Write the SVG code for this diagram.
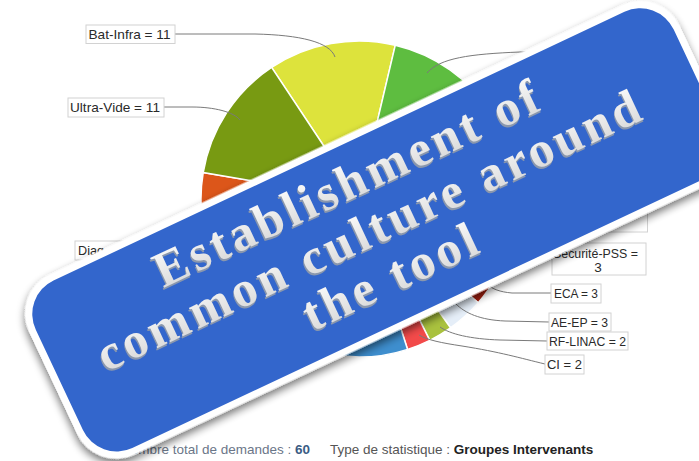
<svg xmlns="http://www.w3.org/2000/svg" width="699" height="461" viewBox="0 0 699 461">
<defs>
<style>
.slice{stroke:#fff;stroke-width:1.5}
.box rect{fill:#fff;stroke:#d2d2d2;stroke-width:1}
.box text{font-family:"Liberation Sans",Arial,sans-serif;font-size:13.5px;fill:#2a2a2a}
.conn path{fill:none;stroke:#7a7a7a;stroke-width:1}
.foot{font-family:"Liberation Sans",Arial,sans-serif;font-size:13.5px}
.bt{font-family:"Liberation Serif","Times New Roman",serif;font-weight:bold;font-size:50px;letter-spacing:4px;text-anchor:middle}
</style>
<filter id="sh" x="-10%" y="-20%" width="120%" height="140%">
<feGaussianBlur in="SourceAlpha" stdDeviation="4"/>
<feOffset dx="-2" dy="4" result="b"/>
<feComponentTransfer><feFuncA type="linear" slope="0.55"/></feComponentTransfer>
<feMerge><feMergeNode/><feMergeNode in="SourceGraphic"/></feMerge>
</filter>
<linearGradient id="tg" x1="0" y1="0" x2="0" y2="1">
<stop offset="0" stop-color="#ffffff"/>
<stop offset="1" stop-color="#d4d4d4"/>
</linearGradient>
</defs>
<rect width="699" height="461" fill="#fff"/>

<g id="pie">
<path class="slice" fill="#dde33c" d="M359,199 L271.6,67.4 A158,158 0 0 1 395.3,45.2 Z"/>
<path class="slice" fill="#5ebd40" d="M359,199 L395.3,45.2 A158,158 0 0 1 491.5,113 Z"/>
<path class="slice" fill="#3aa08c" d="M359,199 L491.5,113 A158,158 0 0 1 516.4,185.2 Z"/>
<path class="slice" fill="#8c55a8" d="M359,199 L516.4,185.2 A158,158 0 0 1 511.2,241.5 Z"/>
<path class="slice" fill="#f0a030" d="M359,199 L511.2,241.5 A158,158 0 0 1 497.7,274.6 Z"/>
<path class="slice" fill="#a62010" d="M359,199 L497.7,274.6 A158,158 0 0 1 478.2,302.7 Z"/>
<path class="slice" fill="#e5eef8" d="M359,199 L478.2,302.7 A158,158 0 0 1 450.5,327.8 Z"/>
<path class="slice" fill="#a9c13e" d="M359,199 L450.5,327.8 A158,158 0 0 1 429.8,340.3 Z"/>
<path class="slice" fill="#f24a4a" d="M359,199 L429.8,340.3 A158,158 0 0 1 407.6,349.4 Z"/>
<path class="slice" fill="#3e8ece" d="M359,199 L407.6,349.4 A158,158 0 0 1 253.3,316.4 Z"/>
<path class="slice" fill="#2a6aa8" d="M359,199 L253.3,316.4 A158,158 0 0 1 205,234.5 Z"/>
<path class="slice" fill="#dc561a" d="M359,199 L205,234.5 A158,158 0 0 1 203.2,172.6 Z"/>
<path class="slice" fill="#789a12" d="M359,199 L203.2,172.6 A158,158 0 0 1 271.6,67.4 Z"/>
</g>

<g id="connectors" class="conn">
<path d="M175,34 L255,34 C300,35 330,42 335,57"/>
<path d="M164,107 L192,107 C214,107 234,112 240,120"/>
<path d="M427,73 C440,58 470,54 520,52 L570,52"/>
<path d="M551,293 L512,293 C500,292 492,289 487,284"/>
<path d="M549,322 L505,321 C480,320 465,313 456,304"/>
<path d="M547,341 L500,340 C470,339 450,334 440,327"/>
<path d="M545,364 C520,358 500,352 462,346 C442,343 427,340 419,335"/>
</g>

<g id="lbl-batinfra" class="box"><rect x="86" y="25" width="89" height="18.5"/><text x="88.5" y="39" textLength="82" lengthAdjust="spacingAndGlyphs">Bat-Infra = 11</text></g>
<g id="lbl-ultravide" class="box"><rect x="68" y="98" width="96" height="19"/><text x="70" y="112" textLength="90" lengthAdjust="spacingAndGlyphs">Ultra-Vide = 11</text></g>
<g id="lbl-diag" class="box"><rect x="75" y="241" width="80" height="19"/><text x="78" y="255" textLength="26" lengthAdjust="spacingAndGlyphs">Diag</text></g>
<g id="lbl-hidden" class="box"><rect x="560" y="205" width="87.5" height="27"/></g>
<g id="lbl-securite" class="box"><rect x="552" y="243" width="94" height="32"/><text x="553" y="258" textLength="85" lengthAdjust="spacingAndGlyphs">Sécurité-PSS =</text><text x="598" y="272" text-anchor="middle">3</text></g>
<g id="lbl-eca" class="box"><rect x="551" y="284" width="50" height="19"/><text x="554" y="298" textLength="44" lengthAdjust="spacingAndGlyphs">ECA = 3</text></g>
<g id="lbl-aeep" class="box"><rect x="549" y="313" width="62" height="18"/><text x="551" y="327" textLength="57" lengthAdjust="spacingAndGlyphs">AE-EP = 3</text></g>
<g id="lbl-rflinac" class="box"><rect x="547" y="332" width="81" height="18"/><text x="549" y="346" textLength="77" lengthAdjust="spacingAndGlyphs">RF-LINAC = 2</text></g>
<g id="lbl-ci" class="box"><rect x="545" y="355" width="39" height="19"/><text x="547" y="369" textLength="35" lengthAdjust="spacingAndGlyphs">CI = 2</text></g>

<g id="footer">
<text class="foot" x="121" y="454" fill="#6b7688">Nombre total de demandes : <tspan font-weight="bold" fill="#3a5c84">60</tspan></text>
<text class="foot" x="330" y="454" fill="#555">Type de statistique : <tspan font-weight="bold" fill="#222">Groupes Intervenants</tspan></text>
</g>

<g id="banner" transform="rotate(-25.2)">
<rect x="-115" y="269.6" width="719" height="199" rx="43" fill="#fff" filter="url(#sh)"/>
<rect x="-108" y="276.6" width="705" height="185" rx="37" fill="#3366cc"/>
<g class="bt" fill="#8a97ad" transform="translate(-1.5,1.8)">
<text x="237" y="330">Establishment of</text>
<text x="237" y="382">common culture around</text>
<text x="237" y="433">the tool</text>
</g>
<g class="bt" fill="url(#tg)">
<text x="237" y="330">Establishment of</text>
<text x="237" y="382">common culture around</text>
<text x="237" y="433">the tool</text>
</g>
</g>
</svg>
